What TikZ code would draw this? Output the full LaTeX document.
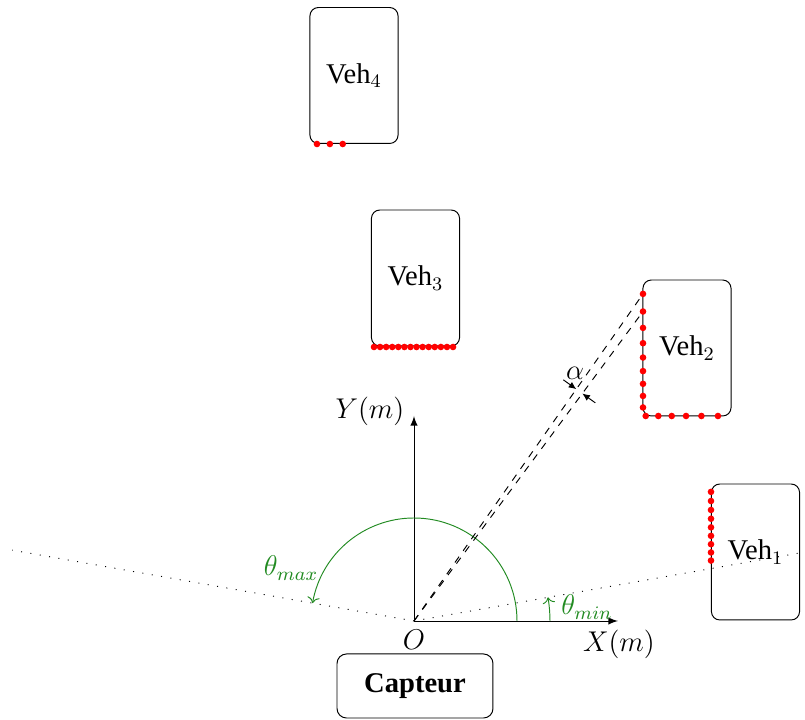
\documentclass[tikz,border=0pt,12pt]{standalone}
\usepackage{fontspec}
\setmainfont{Liberation Serif}
\usetikzlibrary{calc,arrows,arrows.meta}
\definecolor{thgreen}{RGB}{34,139,34}
\begin{document}
\begin{tikzpicture}[x=0.42pt,y=0.42pt,
  veh/.style={draw, rounded corners=3.5pt, minimum width=37pt, minimum height=57.1pt, inner sep=0pt},
  capt/.style={draw, rounded corners=4pt, minimum width=65.5pt, minimum height=26.9pt, inner sep=0pt, font=\bfseries},
  pt/.style={fill=red},
  ray/.style={dashed},
  fov/.style={dash pattern=on 0.42pt off 3.56pt},
  ang/.style={thgreen,->},
  axis/.style={-latex},
  alphamark/.style={-{Latex[length=3.2pt,width=2.8pt]}}]
\useasboundingbox (0,0) rectangle (805,720);
\coordinate (O) at (414,99);
\coordinate (Xe) at (618,99);
\coordinate (Ye) at (414,304);
% field of view limits
\draw[fov] (O) -- ++(170:408) coordinate (Lmax);
\draw[fov] (O) -- ++(10:408) coordinate (Lmin);
% axes
\draw[axis] (O) -- (Xe);
\draw[axis] (O) -- (Ye);
\node (xl) at (619,76) {$X(m)$};
\node (yl) at (370,309) {$Y(m)$};
\node (ol) at (414,80) {$O$};
% angles
\draw[ang] (O) ++(0:103) arc[start angle=0,end angle=170,radius=103];
\draw[ang] (O) ++(0:136) arc[start angle=0,end angle=10,radius=136];
\node[thgreen] (tmax) at (291,152) {$\theta_{max}$};
\node[thgreen] (tmin) at (587,113) {$\theta_{min}$};
% vehicles
\node[veh] (v1) at (755.5,168) {Veh$_1$};
\node[veh] (v2) at (687,372) {Veh$_2$};
\node[veh] (v3) at (415.5,442) {Veh$_3$};
\node[veh] (v4) at (354,644.5) {Veh$_4$};
\node[capt] (cap) at (415,34) {Capteur};
% rays to Veh2
\coordinate (r1) at ({643},{99+229*tan(55)});
\coordinate (r2) at ({643},{99+229*tan(53.5)});
\draw[ray] (O) -- (r1);
\draw[ray] (O) -- (r2);
% alpha marker
\path (O) ++(55:283) coordinate (q1);
\path (O) ++(53.5:283) coordinate (q2);
\coordinate (p1) at ($(q1)+(144.25:16)$);
\coordinate (p2) at ($(q2)+(-35.75:16)$);
\draw[alphamark] (p1) -- (q1);
\draw[alphamark] (p2) -- (q2);
\node (al) at (575,347) {$\alpha$};
% impact points
\foreach \a in {55,53.5,...,42.9}
  \fill[pt] ({643},{99+229*tan(\a)}) circle (3.3);
\foreach \a in {41.5,40,...,33.9}
  \fill[pt] ({414+205*cot(\a)},304) circle (3.3);
\foreach \a in {11.5,13,...,23.6}
  \fill[pt] ({711},{99+297*tan(\a)}) circle (3.3);
\foreach \i in {0,...,13}
  \fill[pt] ({374+6.08*\i},373) circle (3.3);
\foreach \a in {98.5,100,101.5}
  \fill[pt] ({414+477*cot(\a)},576) circle (3.3);
\end{tikzpicture}
\end{document}
